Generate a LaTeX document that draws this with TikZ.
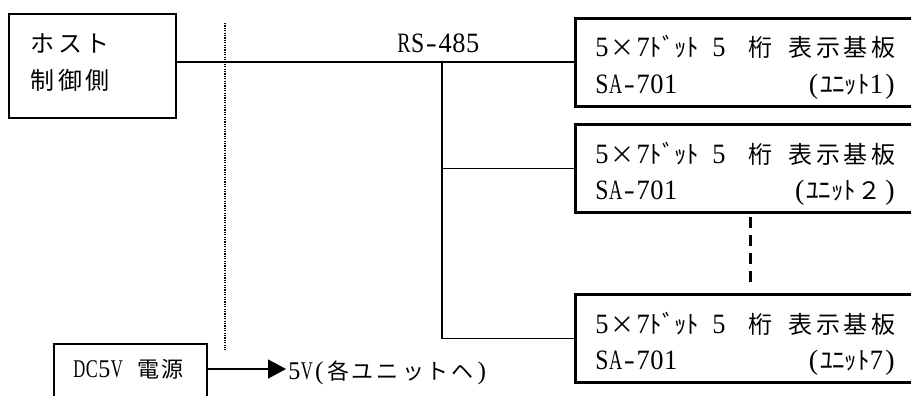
\documentclass[tikz,border=0pt]{standalone}
\usepackage{fontspec}
\usepackage{graphicx}
\setmainfont{Liberation Serif}
\newfontfamily\jp{Noto Sans CJK JP}
\usetikzlibrary{arrows.meta,calc}
\newlength\hs \setlength\hs{13.75pt}
\newsavebox\hbx
\def\lsz{28pt}\def\jsz{24pt}\def\ksz{25pt}\def\kw{12.3pt}
\newcommand\hl[1]{\sbox\hbx{\fontsize{\lsz}{\lsz}\selectfont #1}\makebox[\hs]{\ifdim\wd\hbx>0.96\hs\relax\resizebox{0.96\hs}{\height}{\usebox\hbx}\else\usebox\hbx\fi}}
\newcommand\hy{\makebox[\hs]{\resizebox{0.8\hs}{\height}{\fontsize{\lsz}{\lsz}\selectfont -}}}
\newcommand\fw[1]{\makebox[2\hs]{\jp\fontsize{\jsz}{\jsz}\selectfont #1}}
\newcommand\hk[1]{\makebox[\kw]{\jp\fontsize{\ksz}{\ksz}\selectfont #1}}
\newcommand\lineone{\hl{5}\fw{×}\hl{7}\hk{ﾄ}\hk{ﾞ}\hk{ｯ}\hk{ﾄ}\hspace{13pt}\hl{5}\hspace{21.25pt}\fw{桁}\hspace{12.5pt}\fw{表}\fw{示}\fw{基}\fw{板}}
\newcommand\saname{\hl{S}\hl{A}\hy\hl{7}\hl{0}\hl{1}}
\newcommand\smallset{\setlength\hs{12.5pt}\def\lsz{25.5pt}\def\jsz{22pt}}
\tikzset{
  hostbox/.style={draw, line width=2pt, inner sep=0pt, anchor=north west},
  unitbox/.style={draw, line width=2.6pt, inner sep=0pt, anchor=north west, minimum width=360pt, minimum height=88pt},
  txt/.style={inner sep=0pt, outer sep=0pt, anchor=base west},
  txtr/.style={inner sep=0pt, outer sep=0pt, anchor=base east},
  wire/.style={line width=1.6pt},
  sepline/.style={line width=1.2pt, dash pattern=on 1.2pt off 1.2pt},
  gapline/.style={line width=3pt, dash pattern=on 11pt off 7pt}
}
\begin{document}
\begin{tikzpicture}[x=1pt,y=-1pt]
\clip (0,0) rectangle (911,396);
\fill[white] (0,0) rectangle (911,396);
% host
\node[hostbox, minimum width=167pt, minimum height=104pt] (host) at (8,13) {};
\node[txt] (h1) at (29,53) {\fw{ホ}\fw{ス}\fw{ト}};
\node[txt] (h2) at (29,89) {\fw{制}\fw{御}\fw{側}};
% units
\node[unitbox] (u1) at (574,17) {};
\node[unitbox] (u2) at (574,123) {};
\node[unitbox] (u3) at (574,293) {};
\node[txt] (u1a) at ($(u1.north west)+(21,40)$) {\lineone};
\node[txt] (u1b) at ($(u1.north west)+(21,76)$) {\saname};
\node[txtr] (u1c) at ($(u1.north west)+(323,76)$) {\hl{(}\hk{ﾕ}\hk{ﾆ}\hk{ｯ}\hk{ﾄ}\hl{1}\hl{)}};
\node[txt] (u2a) at ($(u2.north west)+(21,40)$) {\lineone};
\node[txt] (u2b) at ($(u2.north west)+(21,76)$) {\saname};
\node[txtr] (u2c) at ($(u2.north west)+(323,76)$) {\hl{(}\hk{ﾕ}\hk{ﾆ}\hk{ｯ}\hk{ﾄ}\fw{２}\hl{)}};
\node[txt] (u3a) at ($(u3.north west)+(21,40)$) {\lineone};
\node[txt] (u3b) at ($(u3.north west)+(21,76)$) {\saname};
\node[txtr] (u3c) at ($(u3.north west)+(323,76)$) {\hl{(}\hk{ﾕ}\hk{ﾆ}\hk{ｯ}\hk{ﾄ}\hl{7}\hl{)}};
% bus
\node[txt] (rs) at (397,53) {\hl{R}\hl{S}\hy\hl{4}\hl{8}\hl{5}};
\coordinate (j) at (442,61);
\draw[wire] (host.east |- u1.west) -- (u1.west);
\draw[wire] (j) -- (j |- u3.west) -- (u3.west);
\draw[wire] (j |- u2.west) -- (u2.west);
% separators
\coordinate (d1) at (225,23);
\coordinate (d2) at (225,350);
\draw[sepline] (d1) -- (d2);
\coordinate (e1) at (750,217);
\coordinate (e2) at (750,283);
\draw[gapline] (e1) -- (e2);
% power
\node[hostbox, minimum width=153pt, minimum height=70pt] (ps) at (53,343) {};
\node[txt] (pst) at (73,377) {\smallset\hl{D}\hl{C}\hl{5}\hl{V}\hl{}\fw{電}\fw{源}};
\coordinate (tip) at (286,369);
\draw[wire,-{Triangle[length=18pt,width=19pt]}] (ps.east |- tip) -- (tip);
\node[txt] (lab) at (288,379) {\smallset\hl{5}\hl{V}\hl{(}\fw{各}\fw{ユ}\fw{ニ}\fw{ッ}\fw{ト}\fw{ヘ}\hl{)}};
\end{tikzpicture}
\end{document}
